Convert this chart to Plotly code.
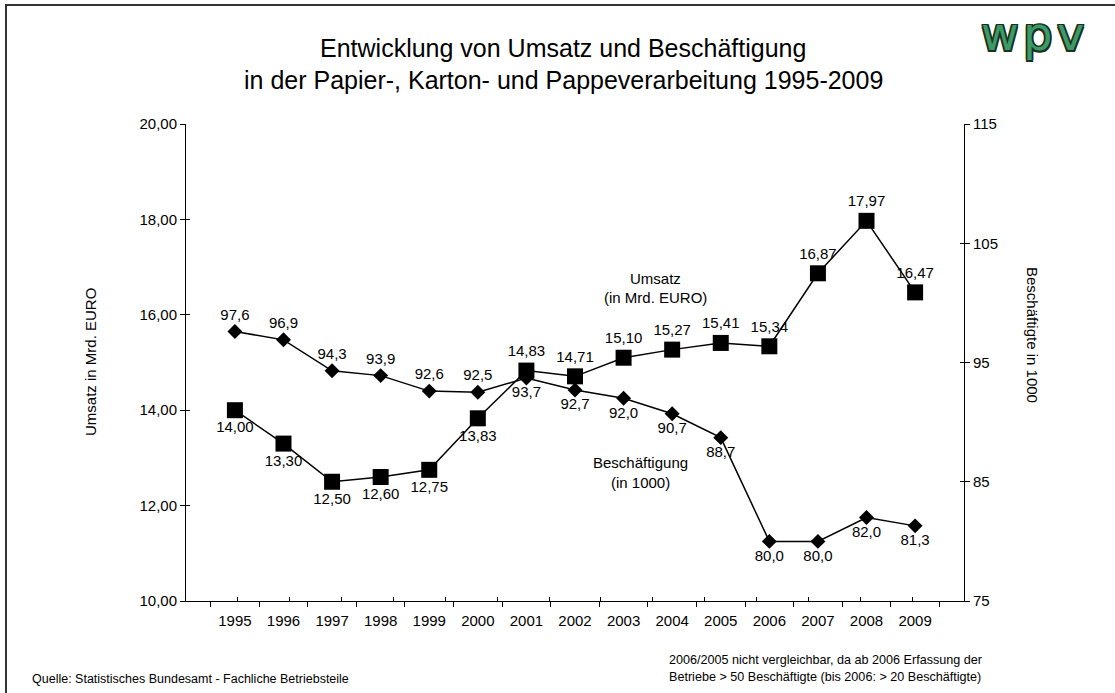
import plotly.graph_objects as go

years = ["1995", "1996", "1997", "1998", "1999", "2000", "2001", "2002",
         "2003", "2004", "2005", "2006", "2007", "2008", "2009"]
umsatz = [14.00, 13.30, 12.50, 12.60, 12.75, 13.83, 14.83, 14.71,
          15.10, 15.27, 15.41, 15.34, 16.87, 17.97, 16.47]
beschaeftigte = [97.6, 96.9, 94.3, 93.9, 92.6, 92.5, 93.7, 92.7,
                 92.0, 90.7, 88.7, 80.0, 80.0, 82.0, 81.3]
umsatz_pos = ["bottom center"] * 6 + ["top center"] * 9
besch_pos = ["top center"] * 6 + ["bottom center"] * 9

FONT = "Liberation Sans, Arial, sans-serif"
W, H = 1115, 693
L, R, T, B = 186, 151, 124, 92
PW, PH = W - L - R, H - T - B


def px(x):
    return (x - L) / PW


def py(y):
    return (H - B - y) / PH


fig = go.Figure()
fig.add_trace(go.Scatter(
    x=years, y=umsatz, mode="lines+markers+text",
    line=dict(color="black", width=1.5),
    marker=dict(symbol="square", size=16, color="black"),
    texttemplate="%{y:.2f}", textposition=umsatz_pos,
    textfont=dict(size=15, color="black", family=FONT),
    cliponaxis=False, showlegend=False, yaxis="y", hoverinfo="skip"))
fig.add_trace(go.Scatter(
    x=years, y=beschaeftigte, mode="lines+markers+text",
    line=dict(color="black", width=1.5),
    marker=dict(symbol="diamond", size=11.5, color="black"),
    texttemplate="%{y:.1f}", textposition=besch_pos,
    textfont=dict(size=15, color="black", family=FONT),
    cliponaxis=False, showlegend=False, yaxis="y2", hoverinfo="skip"))
# invisible helpers so the overlay (inner tick) axes get drawn
fig.add_trace(go.Scatter(x=[2000], y=[15], xaxis="x2", yaxis="y3", mode="markers",
                         marker=dict(opacity=0), hoverinfo="skip", showlegend=False))
fig.add_trace(go.Scatter(x=[2000], y=[95], xaxis="x2", yaxis="y4", mode="markers",
                         marker=dict(opacity=0), hoverinfo="skip", showlegend=False))

tickfont = dict(size=15, color="black", family=FONT)
fig.update_layout(
    width=W, height=H,
    margin=dict(l=L, r=R, t=T, b=B),
    paper_bgcolor="white", plot_bgcolor="white",
    separators=",.",
    font=dict(family=FONT, color="black"),
    xaxis=dict(type="category", tickson="boundaries", ticks="outside",
               ticklen=5, tickcolor="black", showline=True, linecolor="black",
               linewidth=1, showgrid=False, tickfont=tickfont, ticklabelstandoff=6),
    xaxis2=dict(overlaying="x", anchor="y", side="bottom", type="linear",
                range=[1994.5, 2009.5], tick0=1994.5, dtick=1, ticks="inside",
                ticklen=4, tickcolor="black", showticklabels=False,
                showline=False, showgrid=False, zeroline=False),
    yaxis=dict(range=[10, 20], dtick=2, tickformat=".2f", ticks="outside",
               ticklen=5, tickcolor="black", showline=True, linecolor="black",
               showgrid=False, zeroline=False, tickfont=tickfont),
    yaxis2=dict(range=[75, 115], tick0=75, dtick=10, side="right",
                overlaying="y", anchor="x", ticks="outside", ticklen=5,
                tickcolor="black", showline=True, linecolor="black",
                showgrid=False, zeroline=False, tickfont=tickfont),
    yaxis3=dict(range=[10, 20], dtick=2, overlaying="y", side="left", anchor="x2",
                ticks="inside", ticklen=4, tickcolor="black",
                showticklabels=False, showline=False, showgrid=False,
                zeroline=False),
    yaxis4=dict(range=[75, 115], tick0=75, dtick=10, overlaying="y",
                side="right", anchor="x2", ticks="inside", ticklen=4,
                tickcolor="black", showticklabels=False, showline=False,
                showgrid=False, zeroline=False),
)

ann = []


def add_text(x, y, text, size, **kw):
    d = dict(x=px(x), y=py(y), xref="paper", yref="paper", text=text,
             showarrow=False, xanchor="center", yanchor="middle",
             font=dict(size=size, color="black", family=FONT))
    d.update(kw)
    ann.append(d)


add_text(563, 48, "Entwicklung von Umsatz und Beschäftigung", 25)
add_text(563, 80, "in der Papier-, Karton- und Pappeverarbeitung 1995-2009", 25)
add_text(90, 362, "Umsatz in Mrd. EURO", 15, textangle=-90)
add_text(1033, 335, "Beschäftigte in 1000", 15, textangle=90)
add_text(655, 278, "Umsatz", 15)
add_text(655, 297, "(in Mrd. EURO)", 15)
add_text(640, 462, "Beschäftigung", 15)
add_text(640, 482, "(in 1000)", 15)
add_text(30, 679, "Quelle: Statistisches Bundesamt - Fachliche Betriebsteile", 12.5,
         xanchor="left")
add_text(667, 660, "2006/2005 nicht vergleichbar, da ab 2006 Erfassung der", 12.6,
         xanchor="left")
add_text(667, 677, "Betriebe > 50 Beschäftigte (bis 2006: > 20 Beschäftigte)", 12.6,
         xanchor="left")
outline = "#1e2e22"
ann.append(dict(x=px(1032), y=py(34), xref="paper", yref="paper",
                text="w\u200ap\u200av",
                showarrow=False, xanchor="center", yanchor="middle",
                font=dict(size=46, color="#3a9c64", family="DejaVu Sans, sans-serif",
                          shadow=(f"1.5px 1.5px 0 {outline}, -1.5px -1.5px 0 {outline}, "
                                  f"1.5px -1.5px 0 {outline}, -1.5px 1.5px 0 {outline}, "
                                  f"0 1.5px 0 {outline}, 0 -1.5px 0 {outline}, "
                                  f"1.5px 0 0 {outline}, -1.5px 0 0 {outline}"))))
fig.update_layout(annotations=ann)

fig.add_shape(type="line", xref="paper", yref="paper", x0=px(5), x1=px(1130),
              y0=py(5), y1=py(5), line=dict(color="#333", width=2))
fig.add_shape(type="line", xref="paper", yref="paper", x0=px(6), x1=px(6),
              y0=py(4), y1=py(710), line=dict(color="#333", width=2))

fig.write_html("out.html", config={"displayModeBar": False},
               post_script="document.body.style.margin='0';")
